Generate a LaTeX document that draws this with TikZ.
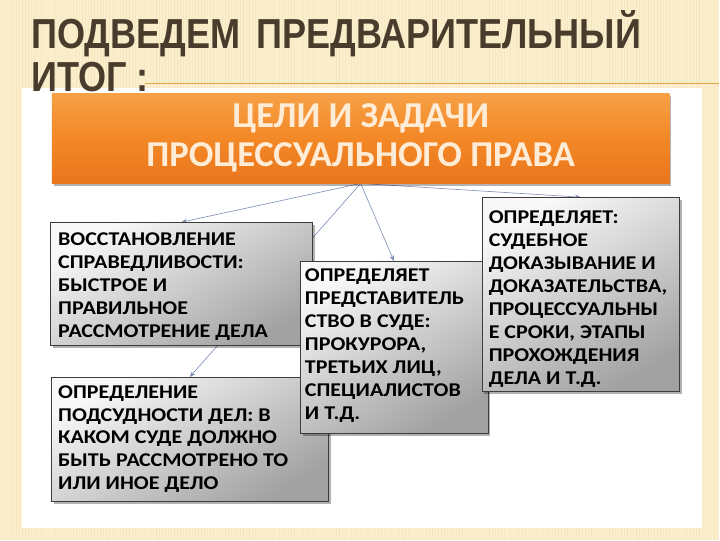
\documentclass[tikz,border=0pt]{standalone}
\usepackage{fontspec}
\usetikzlibrary{arrows.meta,shadows,calc}
\newfontfamily\titlefont[FakeStretch=0.86]{Liberation Sans}
\newfontfamily\boxfont[FakeStretch=1.13]{Carlito}
\newfontfamily\headfont{Carlito}
\definecolor{bgcream}{RGB}{250,238,204}
\definecolor{stripecol}{RGB}{226,200,140}
\definecolor{titlebrown}{RGB}{74,60,44}
\definecolor{rulecol}{RGB}{226,164,72}
\definecolor{connc}{RGB}{125,140,180}
\definecolor{orTop}{RGB}{247,160,70}
\definecolor{orMid}{RGB}{243,136,38}
\definecolor{orBot}{RGB}{234,118,30}
\definecolor{orText}{RGB}{255,236,214}
\definecolor{boxlight}{RGB}{248,248,248}
\definecolor{boxdark}{RGB}{162,162,162}
\definecolor{boxborder}{RGB}{60,60,60}
\pgfdeclarelayer{bglayer}
\pgfdeclarelayer{connlayer}
\pgfsetlayers{bglayer,connlayer,main}
\begin{document}
\begin{tikzpicture}[x=1pt,y=-1pt,
  box/.style={draw=boxborder, line width=0.8pt, top color=boxlight, bottom color=boxdark, shading angle=30,
    anchor=north west, inner sep=0pt,
    drop shadow={shadow xshift=2.5pt, shadow yshift=-2.5pt, opacity=0.3, fill=black}},
  boxtxt/.style={anchor=north west, inner sep=0pt, align=left, text=black,
    font=\boxfont\bfseries\fontsize{19.5}{23}\selectfont},
  headbox/.style={top color=orTop, bottom color=orBot, middle color=orMid, inner sep=0pt,
    minimum width=618pt, minimum height=90pt, align=center, text=orText,
    font=\headfont\bfseries\fontsize{36.5}{39}\selectfont,
    drop shadow={shadow xshift=2pt, shadow yshift=-3pt, opacity=0.3, fill=black}},
  conn/.style={draw=connc, line width=0.6pt, -{Stealth[length=6pt,width=4.5pt]}},
  titletxt/.style={anchor=base west, inner sep=0pt, text=titlebrown,
    font=\titlefont\bfseries\fontsize{42}{43}\selectfont}
]
\begin{pgfonlayer}{bglayer}
% background
\fill[bgcream] (0,0) rectangle (720,540);
\pgfmathsetseed{7}
\foreach \i in {0,...,239}{
  \pgfmathsetmacro\xx{\i*3+1}
  \pgfmathsetmacro\op{0.05+0.18*rnd}
  \draw[stripecol, line width=0.8pt, opacity=\op] (\xx,0) -- (\xx,540);
}
% white panel
\fill[white] (22,88) rectangle (703,528);
\end{pgfonlayer}
% title
\node[titletxt] (t1) at (31,48) {ПОДВЕДЕМ\hspace{16pt}ПРЕДВАРИТЕЛЬНЫЙ};
\node[titletxt] (t2) at (31,91) {ИТОГ :};
\coordinate (rs) at (145,83);
\coordinate (re) at (720,83);
\draw[rulecol, line width=1.3pt] (rs) -- (re);
% header
\node[headbox] (o) at (361,138) {ЦЕЛИ И ЗАДАЧИ\\ПРОЦЕССУАЛЬНОГО ПРАВА};
% boxes
\node[box, minimum width=262pt, minimum height=123pt] (b1) at (50,222) {};
\node[boxtxt] (t_b1) at (58,232) {ВОССТАНОВЛЕНИЕ\\СПРАВЕДЛИВОСТИ:\\БЫСТРОЕ И\\ПРАВИЛЬНОЕ\\РАССМОТРЕНИЕ ДЕЛА};
\node[box, minimum width=277pt, minimum height=124pt] (b4) at (51,377) {};
\node[boxtxt] (t_b4) at (58,385) {ОПРЕДЕЛЕНИЕ\\ПОДСУДНОСТИ ДЕЛ: В\\КАКОМ СУДЕ ДОЛЖНО\\БЫТЬ РАССМОТРЕНО ТО\\ИЛИ ИНОЕ ДЕЛО};
\node[box, minimum width=188pt, minimum height=172pt] (b2) at (300,261) {};
\node[boxtxt] (t_b2) at (305,268) {ОПРЕДЕЛЯЕТ\\ПРЕДСТАВИТЕЛЬ\\СТВО В СУДЕ:\\ПРОКУРОРА,\\ТРЕТЬИХ ЛИЦ,\\СПЕЦИАЛИСТОВ\\И Т.Д.};
\node[box, minimum width=198pt, minimum height=194pt] (b3) at (482,197) {};
\node[boxtxt] (t_b3) at (489,210) {ОПРЕДЕЛЯЕТ:\\СУДЕБНОЕ\\ДОКАЗЫВАНИЕ И\\ДОКАЗАТЕЛЬСТВА,\\ПРОЦЕССУАЛЬНЫ\\Е СРОКИ, ЭТАПЫ\\ПРОХОЖДЕНИЯ\\ДЕЛА И Т.Д.};
% connectors (below boxes)
\begin{pgfonlayer}{connlayer}
\draw[conn] (o.south) -- (b1.north);
\draw[conn] (o.south) -- (b4.north);
\draw[conn] (o.south) -- (b2.north);
\draw[conn] (o.south) -- (b3.north);
\end{pgfonlayer}
\end{tikzpicture}
\end{document}
